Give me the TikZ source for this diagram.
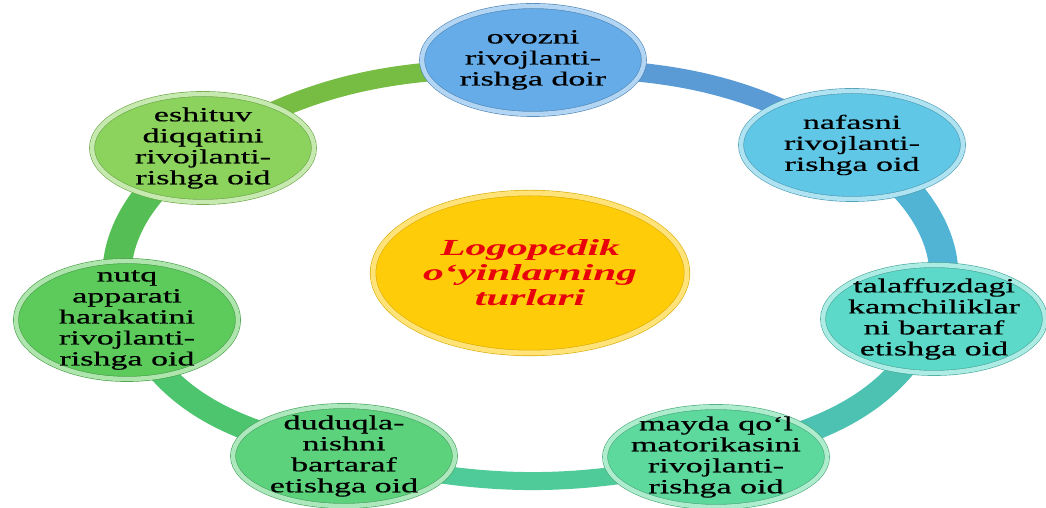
\documentclass[tikz,border=0pt]{standalone}
\usepackage{fontspec}
\newfontfamily\bubblefont[FakeStretch=1.7,FakeBold=0.6]{Liberation Serif}
\newfontfamily\hubfont[FakeStretch=1.8]{Liberation Serif}
\usepackage{tikz}
\usetikzlibrary{shapes.geometric}
\pgfdeclarelayer{background}
\pgfsetlayers{background,main}

\definecolor{ovozfill}{HTML}{66ACE8}
\definecolor{nafasfill}{HTML}{60C7E6}
\definecolor{talaffill}{HTML}{5CD9C8}
\definecolor{maydafill}{HTML}{5DD99E}
\definecolor{duduqfill}{HTML}{5BD27B}
\definecolor{nutqfill}{HTML}{5CCB5C}
\definecolor{eshitfill}{HTML}{8CD35E}
\definecolor{hubfill}{HTML}{FFCC0A}
\definecolor{hubred}{HTML}{E8000B}
\definecolor{ringA}{HTML}{77BC43}
\definecolor{ringB}{HTML}{5B9BD5}
\definecolor{ringC}{HTML}{52B4D4}
\definecolor{ringD}{HTML}{4DC2B3}
\definecolor{ringE}{HTML}{4FCB99}
\definecolor{ringF}{HTML}{4DC46E}
\definecolor{ringG}{HTML}{55BF55}

\begin{document}
\begin{tikzpicture}[x=1pt,y=1pt,
	bubble/.style={ellipse, fill=#1, draw=#1!78!black, line width=0.6pt, double=#1!50!white, double distance=4.5pt,
		minimum width=222pt, minimum height=108pt, inner sep=-15pt, align=center, text=black,
		font=\bubblefont\fontsize{20}{21}\selectfont},
	hub/.style={ellipse, fill=hubfill, draw=hubfill!85!black, line width=0.6pt, double=hubfill!55!white, double distance=5pt,
		minimum width=314pt, minimum height=160pt, inner sep=0pt, align=center, text=hubred,
		font=\hubfont\bfseries\itshape\fontsize{23}{25}\selectfont},
	ringseg/.style 2 args={draw=#1, line width=#2},
	]
	\useasboundingbox (0,0) rectangle (1046,508);
	%Nodes
	\node[hub]                (turlar)    at (530,235) {Logopedik\\o‘yinlarning\\turlari};
	\node[bubble=ovozfill]    (ovozni)    at (533,448) {ovozni\\rivojlanti-\\rishga doir};
	\node[bubble=nafasfill]   (nafasni)   at (852,363) {nafasni\\rivojlanti-\\rishga oid};
	\node[bubble=talaffill]   (talaffuz)  at (934,189) {talaffuzdagi\\kamchiliklar\\ni bartaraf\\etishga oid};
	\node[bubble=maydafill, minimum height=100pt] (mayda) at (716,51) {mayda qo‘l\\matorikasini\\rivojlanti-\\rishga oid};
	\node[bubble=duduqfill, minimum height=100pt] (duduq) at (344,52) {duduqla-\\nishni\\bartaraf\\etishga oid};
	\node[bubble=nutqfill, minimum height=118pt]  (nutq)  at (127,188) {nutq\\apparati\\harakatini\\rivojlanti-\\rishga oid};
	\node[bubble=eshitfill]   (eshituv)   at (203,360) {eshituv\\diqqatini\\rivojlanti-\\rishga oid};

	\begin{pgfonlayer}{background}
	%Ring
	\draw[ringseg={ringA}{19pt}] (eshituv.center) to[out=31,in=180] ([yshift=-8pt]ovozni.center);
	\draw[ringseg={ringB}{19pt}] ([yshift=-8pt]ovozni.center) to[out=0,in=149] (nafasni.center);
	\draw[ringseg={ringC}{29pt}] (nafasni.center) to[out=-31,in=65] (talaffuz.center);
	\draw[ringseg={ringD}{24pt}] (talaffuz.center) to[out=-115,in=13] (mayda.center);
	\draw[ringseg={ringE}{18pt}] (mayda.center) to[out=193,in=-13] (duduq.center);
	\draw[ringseg={ringF}{24pt}] (duduq.center) to[out=167,in=-65] (nutq.center);
	\draw[ringseg={ringG}{29pt}] (nutq.center) to[out=115,in=-149] (eshituv.center);
	\end{pgfonlayer}
\end{tikzpicture}
\end{document}
